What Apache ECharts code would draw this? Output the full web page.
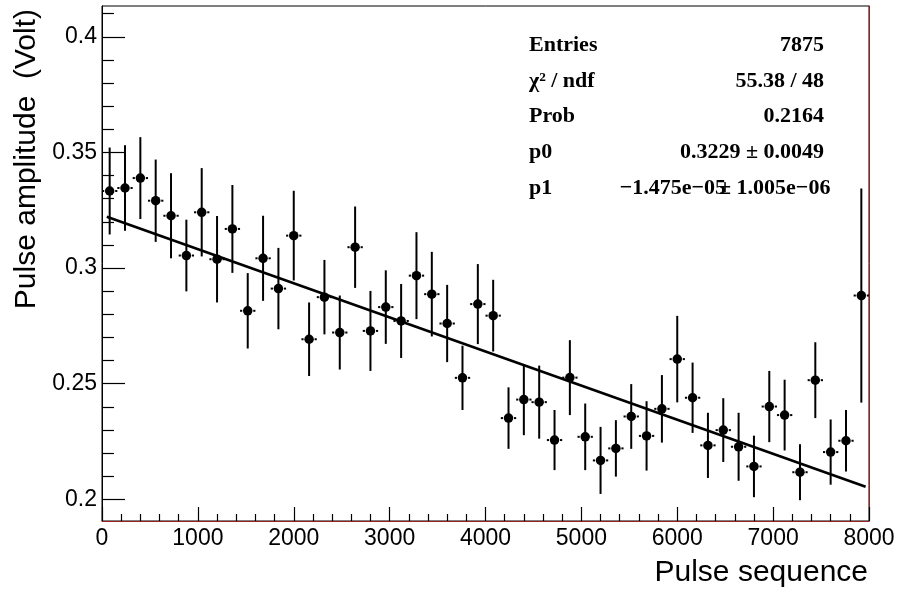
<!DOCTYPE html>
<html>
<head>
<meta charset="utf-8">
<script src="https://cdn.jsdelivr.net/npm/echarts@6/dist/echarts.min.js"></script>
<style>
    html, body { margin: 0; padding: 0; background: #fff; }
    #chart { width: 898px; height: 591px; }
</style>
</head>
<body>
<div id="chart"></div>
<script>
// bin centres (pulse sequence) and mean pulse amplitude per bin
const binCenters = [80, 240, 400, 560, 720, 880, 1040, 1200, 1360, 1520,
    1680, 1840, 2000, 2160, 2320, 2480, 2640, 2800, 2960, 3120,
    3280, 3440, 3600, 3760, 3920, 4080, 4240, 4400, 4560, 4720,
    4880, 5040, 5200, 5360, 5520, 5680, 5840, 6000, 6160, 6320,
    6480, 6640, 6800, 6960, 7120, 7280, 7440, 7600, 7760, 7920];
const amplitudes = [0.3333, 0.3346, 0.3389, 0.3291, 0.3226, 0.3054, 0.3241, 0.3038, 0.3169, 0.2815,
    0.3042, 0.2911, 0.3140, 0.2692, 0.2874, 0.2721, 0.3090, 0.2728, 0.2831, 0.2771,
    0.2967, 0.2887, 0.2760, 0.2525, 0.2844, 0.2794, 0.2351, 0.2431, 0.2420, 0.2256,
    0.2526, 0.2270, 0.2168, 0.2220, 0.2358, 0.2274, 0.2391, 0.2606, 0.2439, 0.2233,
    0.2299, 0.2227, 0.2142, 0.2401, 0.2364, 0.2117, 0.2515, 0.2204, 0.2253, 0.2881];
const amplitudeErrors = [0.0188, 0.0185, 0.0177, 0.0178, 0.0184, 0.0155, 0.0191, 0.0187, 0.0190, 0.0163,
    0.0184, 0.0176, 0.0194, 0.0159, 0.0161, 0.0160, 0.0176, 0.0173, 0.0159, 0.0160,
    0.0188, 0.0183, 0.0167, 0.0139, 0.0173, 0.0155, 0.0133, 0.0154, 0.0158, 0.0130,
    0.0162, 0.0144, 0.0145, 0.0122, 0.0140, 0.0150, 0.0146, 0.0187, 0.0152, 0.0141,
    0.0138, 0.0147, 0.0133, 0.0154, 0.0153, 0.0121, 0.0164, 0.0141, 0.0133, 0.0463];
const binHalfWidth = 80;

// fitted straight line, end points
const fitLine = [[50, 0.3222], [7965, 0.2054]];

// axis ticks
const yMajorTicks = [0.2, 0.25, 0.3, 0.35, 0.4];
const yMinorTicks = [0.21, 0.22, 0.23, 0.24, 0.26, 0.27, 0.28, 0.29, 0.31, 0.32, 0.33, 0.34,
    0.36, 0.37, 0.38, 0.39, 0.41];

// stats box
const statLabels = ['Entries', 'χ² / ndf', 'Prob', 'p0', 'p1'];
const statValues = ['7875', '55.38 / 48', '0.2164', '0.3229 ± 0.0049', null];
const p1Value = '−1.475e−05';
const p1Error = '± 1.005e−06';

const yMin = 0.1906;
const yMax = 0.4133;
const sans = 'Liberation Sans, Arial, sans-serif';
const serif = 'Liberation Serif, Times New Roman, serif';

const points = binCenters.map((x, i) => [x, amplitudes[i], amplitudeErrors[i]]);

const statRowY = [45, 81, 116.5, 152, 188];
const statFont = 'bold 22px ' + serif;
const statTexts = [];
statLabels.forEach((label, i) => {
    statTexts.push({
        type: 'text', x: 529, y: statRowY[i],
        style: { text: label, font: statFont, fill: '#000', align: 'left', verticalAlign: 'middle' }
    });
    if (statValues[i]) {
        statTexts.push({
            type: 'text', x: 824, y: statRowY[i],
            style: { text: statValues[i], font: statFont, fill: '#000', align: 'right', verticalAlign: 'middle' }
        });
    }
});
// p1 value and its error overlap, as in the original stats box
statTexts.push({
    type: 'text', x: 726, y: statRowY[4],
    style: { text: p1Value, font: statFont, fill: '#000', align: 'right', verticalAlign: 'middle' }
});
statTexts.push({
    type: 'text', x: 719, y: statRowY[4],
    style: { text: p1Error, font: statFont, fill: '#000', align: 'left', verticalAlign: 'middle' }
});

const chart = echarts.init(document.getElementById('chart'));
chart.setOption({
    animation: false,
    backgroundColor: '#fff',
    grid: { left: 102, right: 29, top: 6, bottom: 70, show: true, borderColor: '#000', borderWidth: 1, backgroundColor: 'transparent' },
    xAxis: [{
        type: 'value', min: 0, max: 8000, interval: 1000, position: 'bottom',
        axisLine: { show: true, lineStyle: { color: '#9a1f1f', width: 1 } },
        axisTick: { show: true, inside: true, length: 14, lineStyle: { color: '#000', width: 1.2 } },
        minorTick: { show: true, splitNumber: 5, length: 7, lineStyle: { color: '#000', width: 1.2 } },
        axisLabel: { color: '#000', fontFamily: sans, fontSize: 23, margin: 6, formatter: v => String(v) },
        splitLine: { show: false }
    }],
    yAxis: [{
        type: 'value', min: yMin, max: yMax, position: 'left',
        axisLine: { show: true, lineStyle: { color: '#000', width: 1 } },
        axisTick: { show: true, inside: true, length: 23, customValues: yMajorTicks, lineStyle: { color: '#000', width: 1.2 } },
        axisLabel: { color: '#000', fontFamily: sans, fontSize: 23, margin: 5, customValues: yMajorTicks },
        splitLine: { show: false }
    }, {
        type: 'value', min: yMin, max: yMax, position: 'left', offset: 0,
        axisLine: { show: false },
        axisTick: { show: true, inside: true, length: 12, customValues: yMinorTicks, lineStyle: { color: '#000', width: 1.2 } },
        axisLabel: { show: false },
        splitLine: { show: false }
    }, {
        type: 'value', min: yMin, max: yMax, position: 'right',
        axisLine: { show: true, lineStyle: { color: '#9a1f1f', width: 1 } },
        axisTick: { show: false },
        axisLabel: { show: false },
        splitLine: { show: false }
    }],
    graphic: [{
        type: 'text', x: 868, y: 573,
        style: { text: 'Pulse sequence', font: '30px ' + sans, fill: '#000', align: 'right', verticalAlign: 'middle' }
    }, {
        type: 'text', x: 27, y: 9, rotation: Math.PI / 2,
        style: { text: 'Pulse amplitude  (Volt)', font: '30px ' + sans, fill: '#000', align: 'right', verticalAlign: 'middle' }
    }].concat(statTexts),
    series: [{
        // error bars
        type: 'custom',
        data: points,
        renderItem: function (params, api) {
            const x = api.value(0);
            const y = api.value(1);
            const e = api.value(2);
            const c = api.coord([x, y]);
            const top = api.coord([x, y + e]);
            const bot = api.coord([x, y - e]);
            const l = api.coord([x - binHalfWidth, y]);
            const r = api.coord([x + binHalfWidth, y]);
            const gap = 5.5;
            const st = { stroke: '#000', lineWidth: 2 };
            return {
                type: 'group',
                children: [
                    { type: 'line', shape: { x1: c[0], y1: top[1], x2: c[0], y2: bot[1] }, style: st },
                    { type: 'line', shape: { x1: l[0], y1: c[1], x2: c[0] - gap, y2: c[1] }, style: st },
                    { type: 'line', shape: { x1: c[0] + gap, y1: c[1], x2: r[0], y2: c[1] }, style: st }
                ]
            };
        },
        z: 2
    }, {
        type: 'scatter',
        data: points.map(p => [p[0], p[1]]),
        symbol: 'circle',
        symbolSize: 9.5,
        itemStyle: { color: '#000', opacity: 1 },
        z: 3
    }, {
        type: 'line',
        data: fitLine,
        symbol: 'none',
        lineStyle: { color: '#000', width: 2.6 },
        z: 4
    }]
});
</script>
</body>
</html>
